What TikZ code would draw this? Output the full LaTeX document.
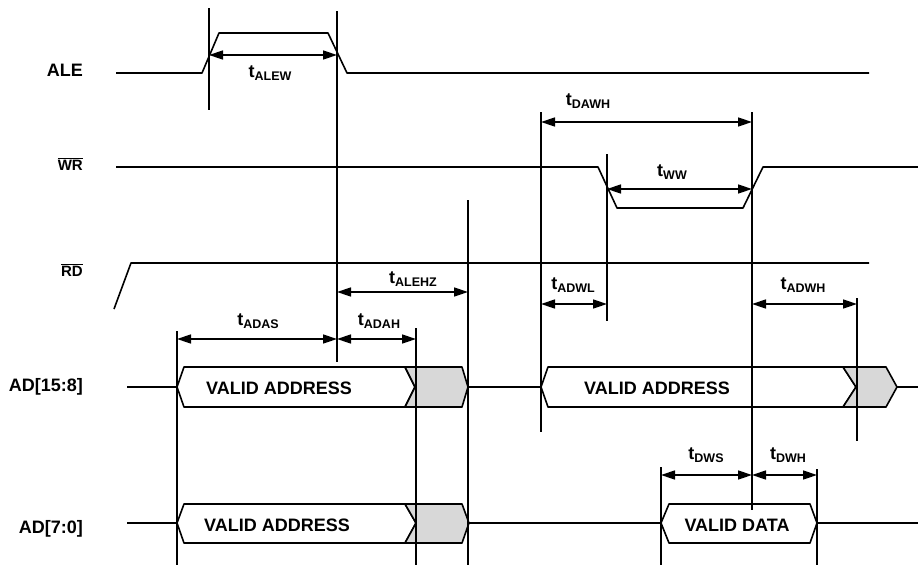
\documentclass[tikz,border=0pt]{standalone}
\usepackage{fontspec}
\setmainfont{Liberation Sans}
\usetikzlibrary{arrows.meta}
\definecolor{busgray}{RGB}{216,216,216}
\def\tsub#1{t\raisebox{-3.5pt}{\fontsize{12.5}{13}\selectfont #1}}

\begin{document}
\begin{tikzpicture}[x=1pt, y=-1pt,
		sig/.style={line width=1.6pt, line join=round},
		guide/.style={line width=1.5pt},
		dim/.style={line width=1.5pt, {Triangle[length=14pt,width=9pt]}-{Triangle[length=14pt,width=9pt]}},
		lbl/.style={font=\fontsize{18}{20}\selectfont\bfseries},
		siglbl/.style={anchor=east, inner sep=0pt, font=\fontsize{18}{20}\selectfont\bfseries},
		barlbl/.style={anchor=east, inner sep=0pt, font=\fontsize{15}{17}\selectfont\bfseries}]
		%%%%% START %%%%%
		\useasboundingbox (0,0) rectangle (918,565);
		
		% signal names
		\node[siglbl] (ale) at (83, 70) {ALE};
		\node[barlbl] (wr) at (83, 164) {$\overline{\mbox{WR}}$};
		\node[barlbl] (rd) at (83, 270) {$\overline{\mbox{RD}}$};
		\node[siglbl] (adhi) at (83, 387) {AD[15:8]};
		\node[siglbl] (adlo) at (83, 529) {AD[7:0]};
		
		% ALE, WR, RD
		\draw[sig] (116, 73) -- (202, 73) -- (219, 33) -- (328, 33) -- (347, 73) -- (869, 73);
		\draw[sig] (116, 167) -- (598, 167) -- (617, 208) -- (743, 208) -- (763, 167) -- (918, 167);
		\draw[sig] (114, 309) -- (131, 263) -- (869, 263);
		
		% AD[15:8]
		\draw[sig] (127, 387) -- (177, 387);
		\draw[sig, fill=white] (177, 387) -- (184, 367) -- (405, 367) -- (415, 387) -- (405, 407) -- (184, 407) -- cycle;
		\draw[sig, fill=busgray] (405, 367) -- (462, 367) -- (468, 387) -- (462, 407) -- (405, 407) -- (415, 387) -- cycle;
		\node[lbl] (addr1) at (279, 388) {VALID ADDRESS};
		\draw[sig] (468, 387) -- (541, 387);
		\draw[sig, fill=white] (541, 387) -- (548, 367) -- (843, 367) -- (856, 387) -- (843, 407) -- (548, 407) -- cycle;
		\draw[sig, fill=busgray] (843, 367) -- (886, 367) -- (897, 387) -- (886, 407) -- (843, 407) -- (856, 387) -- cycle;
		\node[lbl] (addr2) at (657, 388) {VALID ADDRESS};
		\draw[sig] (897, 387) -- (918, 387);
		
		% AD[7:0]
		\draw[sig] (127, 523) -- (177, 523);
		\draw[sig, fill=white] (177, 523) -- (184, 504) -- (405, 504) -- (416, 523) -- (405, 543) -- (184, 543) -- cycle;
		\draw[sig, fill=busgray] (405, 504) -- (462, 504) -- (469, 523) -- (462, 543) -- (405, 543) -- (416, 523) -- cycle;
		\node[lbl] (addr3) at (277, 525) {VALID ADDRESS};
		\draw[sig] (469, 523) -- (661, 523);
		\draw[sig, fill=white] (661, 523) -- (669, 504) -- (810, 504) -- (817, 523) -- (810, 543) -- (669, 543) -- cycle;
		\node[lbl] (data) at (737, 525) {VALID DATA};
		\draw[sig] (817, 523) -- (918, 523);
		
		% guide lines
		\draw[guide] (209, 8) -- (209, 110);
		\draw[guide] (337, 11) -- (337, 362);
		\draw[guide] (468, 200) -- (468, 565);
		\draw[guide] (416, 328) -- (416, 565);
		\draw[guide] (177, 331) -- (177, 565);
		\draw[guide] (541, 112) -- (541, 432);
		\draw[guide] (607, 154) -- (607, 321);
		\draw[guide] (752, 112) -- (752, 510);
		\draw[guide] (857, 298) -- (857, 441);
		\draw[guide] (661, 467) -- (661, 565);
		\draw[guide] (817, 469) -- (817, 565);
		
		% timing arrows
		\draw[dim] (209, 55) -- (337, 55);
		\node[lbl] (alew) at (270, 73) {\tsub{ALEW}};
		\draw[dim] (541, 122) -- (752, 122);
		\node[lbl] (dawh) at (588, 101) {\tsub{DAWH}};
		\draw[dim] (607, 189) -- (752, 189);
		\node[lbl] (ww) at (672, 172) {\tsub{WW}};
		\draw[dim] (337, 292) -- (468, 292);
		\node[lbl] (alehz) at (413, 279) {\tsub{ALEHZ}};
		\draw[dim] (177, 339) -- (337, 339);
		\node[lbl] (adas) at (258, 321) {\tsub{ADAS}};
		\draw[dim] (337, 339) -- (416, 339);
		\node[lbl] (adah) at (379, 321) {\tsub{ADAH}};
		\draw[dim] (541, 304) -- (607, 304);
		\node[lbl] (adwl) at (573, 285) {\tsub{ADWL}};
		\draw[dim] (752, 304) -- (857, 304);
		\node[lbl] (adwh) at (803, 285) {\tsub{ADWH}};
		\draw[dim] (661, 475) -- (752, 475);
		\node[lbl] (dws) at (706, 455) {\tsub{DWS}};
		\draw[dim] (752, 475) -- (817, 475);
		\node[lbl] (dwh) at (788, 455) {\tsub{DWH}};
		
		%%%%% END %%%%%
	\end{tikzpicture}
\end{document}
